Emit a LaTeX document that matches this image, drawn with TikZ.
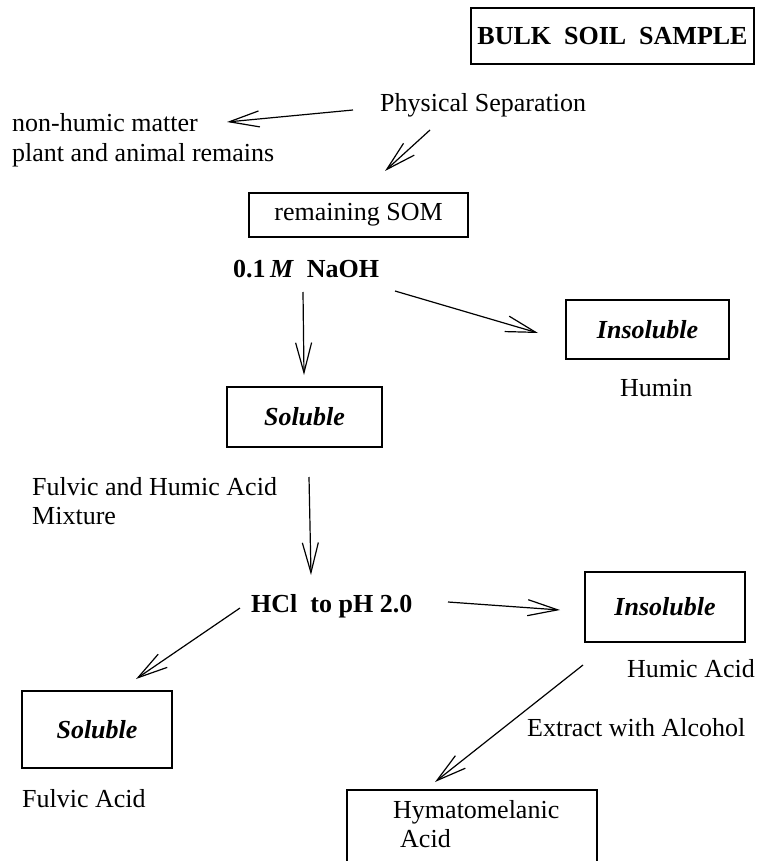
\documentclass[tikz,border=0pt]{standalone}
\usepackage{fontspec}
\setmainfont{Liberation Serif}
\usetikzlibrary{arrows.meta}
\usetikzlibrary{positioning}

\begin{document}
\begin{tikzpicture}[x=1pt, y=-1pt, >={Straight Barb[length=30pt, width=16pt]},
    box/.style={draw, line width=1.4pt, inner sep=0pt, font=\fontsize{26}{29}\selectfont},
    txt/.style={inner sep=0pt, align=left, font=\fontsize{26}{29}\selectfont},
    bold/.style={inner sep=0pt, font=\fontsize{26}{29}\selectfont\bfseries},
    flow/.style={->, line width=1.2pt}]
    \useasboundingbox (0, 0) rectangle (759, 861);
    \clip (0, 0) rectangle (759, 861);

    % boxes
    \draw (612.5, 36) node[box, minimum width=283pt, minimum height=56pt] (bulk) {\bfseries BULK\ \ SOIL\ \ SAMPLE};
    \draw (358.5, 215) node[box, minimum width=219pt, minimum height=44pt] (som) {remaining SOM\hspace{8pt}};
    \draw (647.5, 329.5) node[box, minimum width=163pt, minimum height=59pt] (insol1) {\bfseries\itshape Insoluble};
    \draw (304.5, 417) node[box, minimum width=155pt, minimum height=60pt] (sol1) {\bfseries\itshape Soluble};
    \draw (665, 607) node[box, minimum width=160pt, minimum height=70pt] (insol2) {\bfseries\itshape Insoluble\hspace{14pt}};
    \draw (97, 729.5) node[box, minimum width=150pt, minimum height=77pt] (sol2) {\bfseries\itshape Soluble};
    \draw (472, 850) node[box, minimum width=250pt, minimum height=120pt] (hyma) {};

    % labels
    \draw (380, 112) node[txt, anchor=base west] (sep) {Physical Separation};
    \draw (12, 161) node[txt, anchor=base west] (nonhumic) {non-humic matter\\plant and animal remains};
    \draw (233, 277) node[bold, anchor=base west] (naoh) {0.1\,\textit{M}\ \ NaOH};
    \draw (620, 396) node[txt, anchor=base west] (humin) {Humin};
    \draw (32, 524) node[txt, anchor=base west] (mixture) {Fulvic and Humic Acid\\Mixture};
    \draw (251, 612) node[bold, anchor=base west] (hcl) {HCl\ \ to pH 2.0};
    \draw (755, 677) node[txt, anchor=base east] (humic) {Humic Acid};
    \draw (527, 736) node[txt, anchor=base west] (extract) {Extract with Alcohol};
    \draw (22, 807) node[txt, anchor=base west] (fulvic) {Fulvic Acid};
    \draw (393, 847) node[txt, anchor=base west] (hymatext) {Hymatomelanic\\\hspace{7pt}Acid};

    % arrow ends
    \foreach \name/\x/\y in {s1/353/110, t1/227/122, s2/430/130, t2/385/171,
        s3/303/292, t3/304/375, s4/395/291, t4/538/333, s5/309/477, t5/311/575,
        s6/448/602, t6/560/610, s7/240/608, t7/136/679, s8/583/665, t8/435/782}{
        \coordinate (\name) at (\x, \y);
    }
    \foreach \i in {1,...,8}{
        \draw[flow] (s\i) -- (t\i);
    }
\end{tikzpicture}
\end{document}
